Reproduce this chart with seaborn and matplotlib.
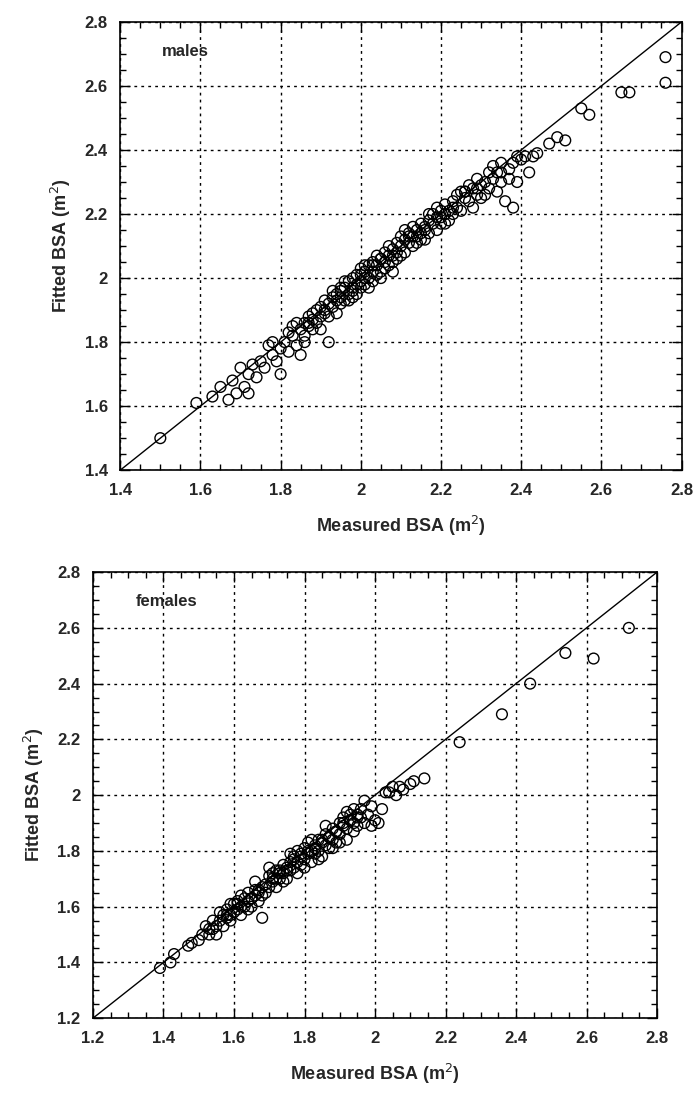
import numpy as np
import pandas as pd
import matplotlib
matplotlib.use("Agg")
import matplotlib.pyplot as plt
import seaborn as sns
from matplotlib.ticker import MultipleLocator, AutoMinorLocator, FuncFormatter

# values (measured vs fitted BSA, m^2)
males_measured = [
    1.50, 1.59, 1.63, 1.65, 1.67, 1.68, 1.69, 1.70, 1.71, 1.72,
    1.72, 1.73, 1.74, 1.75, 1.76, 1.77, 1.78, 1.78, 1.79, 1.80,
    1.80, 1.81, 1.82, 1.83, 1.83, 1.84, 1.85, 1.85, 1.86, 1.86,
    1.87, 1.87, 1.88, 1.88, 1.89, 1.89, 1.90, 1.90, 1.91, 1.91,
    1.92, 1.92, 1.92, 1.93, 1.93, 1.94, 1.94, 1.95, 1.95, 1.95,
    1.96, 1.96, 1.97, 1.97, 1.98, 1.98, 1.98, 1.99, 1.99, 2.00,
    2.00, 2.00, 2.01, 2.01, 2.02, 2.02, 2.02, 2.03, 2.03, 2.04,
    2.04, 2.05, 2.05, 2.05, 2.06, 2.06, 2.07, 2.07, 2.08, 2.08,
    2.08, 2.09, 2.09, 2.10, 2.10, 2.11, 2.11, 2.12, 2.12, 2.13,
    2.13, 2.14, 2.14, 2.15, 2.15, 2.16, 2.16, 2.17, 2.17, 2.18,
    2.18, 2.19, 2.19, 2.20, 2.20, 2.21, 2.21, 2.22, 2.22, 2.23,
    2.24, 2.24, 2.25, 2.26, 2.26, 2.27, 2.28, 2.28, 2.29, 2.30,
    2.30, 2.31, 2.32, 2.33, 2.34, 2.34, 2.35, 2.36, 2.37, 2.38,
    2.38, 2.39, 2.40, 2.41, 2.42, 2.43, 2.44, 2.47, 2.49, 2.51,
    2.55, 2.57, 2.65, 2.67, 2.76, 2.76,
    1.96, 1.99, 2.01, 2.03, 2.06, 2.09, 2.11, 2.13, 2.15, 2.17,
    2.19, 2.21, 2.23, 2.25, 2.27, 2.29, 2.31, 2.33, 2.35, 2.37,
    1.84, 1.86, 1.88, 1.90, 1.93, 1.97, 2.00, 2.04, 2.07, 2.10,
    1.91, 1.94, 1.98, 2.01, 2.05, 2.08, 2.12, 2.16, 2.20, 2.23,
    2.26, 2.29, 2.32, 2.35, 2.39, 1.82, 1.87, 1.95, 2.03, 2.14,
]
males_fitted = [
    1.50, 1.61, 1.63, 1.66, 1.62, 1.68, 1.64, 1.72, 1.66, 1.70,
    1.64, 1.73, 1.69, 1.74, 1.72, 1.79, 1.76, 1.80, 1.74, 1.70,
    1.78, 1.80, 1.77, 1.82, 1.85, 1.79, 1.84, 1.76, 1.86, 1.82,
    1.85, 1.88, 1.84, 1.87, 1.90, 1.86, 1.88, 1.91, 1.89, 1.93,
    1.80, 1.92, 1.88, 1.94, 1.91, 1.93, 1.89, 1.96, 1.92, 1.94,
    1.97, 1.93, 1.95, 1.99, 1.96, 1.94, 2.00, 1.98, 1.95, 2.01,
    1.97, 1.99, 2.02, 1.98, 2.00, 2.04, 1.97, 2.02, 2.05, 2.01,
    2.04, 2.06, 2.02, 2.00, 2.05, 2.08, 2.04, 2.07, 2.09, 2.05,
    2.02, 2.08, 2.11, 2.07, 2.10, 2.12, 2.08, 2.11, 2.14, 2.10,
    2.13, 2.15, 2.11, 2.14, 2.17, 2.12, 2.16, 2.18, 2.14, 2.17,
    2.20, 2.15, 2.19, 2.21, 2.17, 2.20, 2.23, 2.18, 2.21, 2.24,
    2.22, 2.26, 2.21, 2.25, 2.27, 2.24, 2.28, 2.22, 2.26, 2.29,
    2.25, 2.30, 2.28, 2.31, 2.27, 2.33, 2.30, 2.24, 2.34, 2.22,
    2.36, 2.30, 2.37, 2.38, 2.33, 2.38, 2.39, 2.42, 2.44, 2.43,
    2.53, 2.51, 2.58, 2.58, 2.69, 2.61,
    1.99, 2.01, 2.04, 1.99, 2.03, 2.06, 2.15, 2.16, 2.12, 2.20,
    2.22, 2.17, 2.20, 2.27, 2.29, 2.31, 2.26, 2.35, 2.33, 2.31,
    1.86, 1.80, 1.89, 1.84, 1.96, 1.93, 2.03, 2.07, 2.10, 2.13,
    1.90, 1.95, 1.97, 2.00, 2.06, 2.07, 2.13, 2.15, 2.19, 2.22,
    2.27, 2.28, 2.33, 2.36, 2.38, 1.83, 1.86, 1.97, 2.04, 2.13,
]

females_measured = [
    1.39, 1.42, 1.43, 1.47, 1.48, 1.50, 1.51, 1.52, 1.53, 1.54,
    1.54, 1.55, 1.55, 1.56, 1.57, 1.57, 1.58, 1.58, 1.59, 1.59,
    1.60, 1.60, 1.61, 1.61, 1.62, 1.62, 1.63, 1.63, 1.64, 1.64,
    1.65, 1.65, 1.66, 1.66, 1.67, 1.67, 1.68, 1.68, 1.69, 1.69,
    1.70, 1.70, 1.71, 1.71, 1.72, 1.72, 1.73, 1.73, 1.74, 1.74,
    1.75, 1.75, 1.76, 1.76, 1.77, 1.77, 1.78, 1.78, 1.79, 1.79,
    1.80, 1.80, 1.81, 1.81, 1.82, 1.82, 1.83, 1.83, 1.84, 1.84,
    1.85, 1.85, 1.86, 1.86, 1.87, 1.87, 1.88, 1.88, 1.89, 1.89,
    1.90, 1.90, 1.91, 1.91, 1.92, 1.92, 1.93, 1.93, 1.94, 1.94,
    1.95, 1.95, 1.96, 1.97, 1.97, 1.98, 1.99, 2.00, 2.01, 2.02,
    2.04, 2.05, 2.06, 2.07, 2.08, 2.10, 2.11, 2.14, 2.24, 2.36,
    2.44, 2.54, 2.62, 2.72,
    1.56, 1.59, 1.62, 1.64, 1.66, 1.68, 1.70, 1.72, 1.74, 1.76,
    1.78, 1.80, 1.82, 1.84, 1.86, 1.88, 1.90, 1.92, 1.94, 1.96,
    1.53, 1.58, 1.61, 1.65, 1.67, 1.71, 1.73, 1.75, 1.77, 1.79,
    1.81, 1.83, 1.85, 1.87, 1.89, 1.91, 1.93, 1.95, 1.99, 2.03,
]
females_fitted = [
    1.38, 1.40, 1.43, 1.46, 1.47, 1.48, 1.50, 1.53, 1.50, 1.52,
    1.55, 1.53, 1.50, 1.55, 1.57, 1.53, 1.56, 1.59, 1.55, 1.57,
    1.61, 1.58, 1.59, 1.62, 1.60, 1.57, 1.63, 1.60, 1.62, 1.65,
    1.63, 1.60, 1.66, 1.64, 1.65, 1.62, 1.67, 1.56, 1.68, 1.65,
    1.71, 1.67, 1.69, 1.72, 1.70, 1.67, 1.73, 1.70, 1.72, 1.75,
    1.73, 1.70, 1.76, 1.73, 1.74, 1.78, 1.76, 1.72, 1.79, 1.75,
    1.81, 1.77, 1.79, 1.83, 1.80, 1.76, 1.82, 1.79, 1.84, 1.80,
    1.83, 1.78, 1.86, 1.82, 1.85, 1.81, 1.88, 1.84, 1.87, 1.83,
    1.90, 1.86, 1.89, 1.92, 1.88, 1.84, 1.91, 1.93, 1.90, 1.87,
    1.93, 1.89, 1.92, 1.98, 1.90, 1.93, 1.89, 1.91, 1.90, 1.95,
    2.01, 2.03, 2.00, 2.03, 2.02, 2.04, 2.05, 2.06, 2.19, 2.29,
    2.40, 2.51, 2.49, 2.60,
    1.58, 1.61, 1.64, 1.59, 1.69, 1.64, 1.74, 1.73, 1.69, 1.79,
    1.80, 1.74, 1.84, 1.77, 1.89, 1.81, 1.83, 1.94, 1.95, 1.95,
    1.52, 1.57, 1.61, 1.63, 1.66, 1.70, 1.72, 1.74, 1.77, 1.78,
    1.80, 1.81, 1.84, 1.85, 1.87, 1.90, 1.91, 1.92, 1.96, 2.01,
]

panels = [
    ("males", males_measured, males_fitted, (1.4, 2.8)),
    ("females", females_measured, females_fitted, (1.2, 2.8)),
]

sns.set_style("ticks")
plt.rcParams["font.family"] = ["Liberation Sans", "DejaVu Sans"]

fig = plt.figure(figsize=(6.99, 10.96), dpi=100)
axes = [
    fig.add_axes([0.172, 0.571, 0.803, 0.409]),
    fig.add_axes([0.133, 0.071, 0.807, 0.407]),
]

for ax, (name, meas, fit, lims) in zip(axes, panels):
    df = pd.DataFrame({"measured": meas, "fitted": fit})
    ax.set_axisbelow(True)
    ax.grid(True, which="major", color="black", linestyle=(0, (2, 3)), linewidth=1.0)
    sns.scatterplot(data=df, x="measured", y="fitted", ax=ax, marker="o",
                    s=60, facecolor="none", edgecolor="black", linewidth=1.0,
                    zorder=3)
    ax.axline((lims[0], lims[0]), slope=1, color="black", linewidth=1.0, zorder=4)
    ax.set_xlim(lims)
    ax.set_ylim(lims)
    for a in (ax.xaxis, ax.yaxis):
        a.set_major_locator(MultipleLocator(0.2))
        a.set_minor_locator(AutoMinorLocator(4))
        a.set_major_formatter(FuncFormatter(lambda v, p: f"{v:g}"))
    ax.tick_params(which="both", direction="in", top=True, right=True,
                   color="black", width=1.0)
    ax.tick_params(which="major", length=7, labelsize=12, pad=9)
    ax.tick_params(which="minor", length=4)
    for lab in ax.get_xticklabels() + ax.get_yticklabels():
        lab.set_fontweight("bold")
    for sp in ax.spines.values():
        sp.set_color("black")
        sp.set_linewidth(1.2)
    ax.set_xlabel("Measured BSA (m$^2$)", fontsize=13, fontweight="bold", labelpad=12)
    ax.set_ylabel("Fitted BSA (m$^2$)", fontsize=13, fontweight="bold", labelpad=8)
    ax.text(0.075, 0.935, name, transform=ax.transAxes, fontsize=12,
            fontweight="bold", ha="left", va="center")

fig.savefig("out.png", dpi=100)
